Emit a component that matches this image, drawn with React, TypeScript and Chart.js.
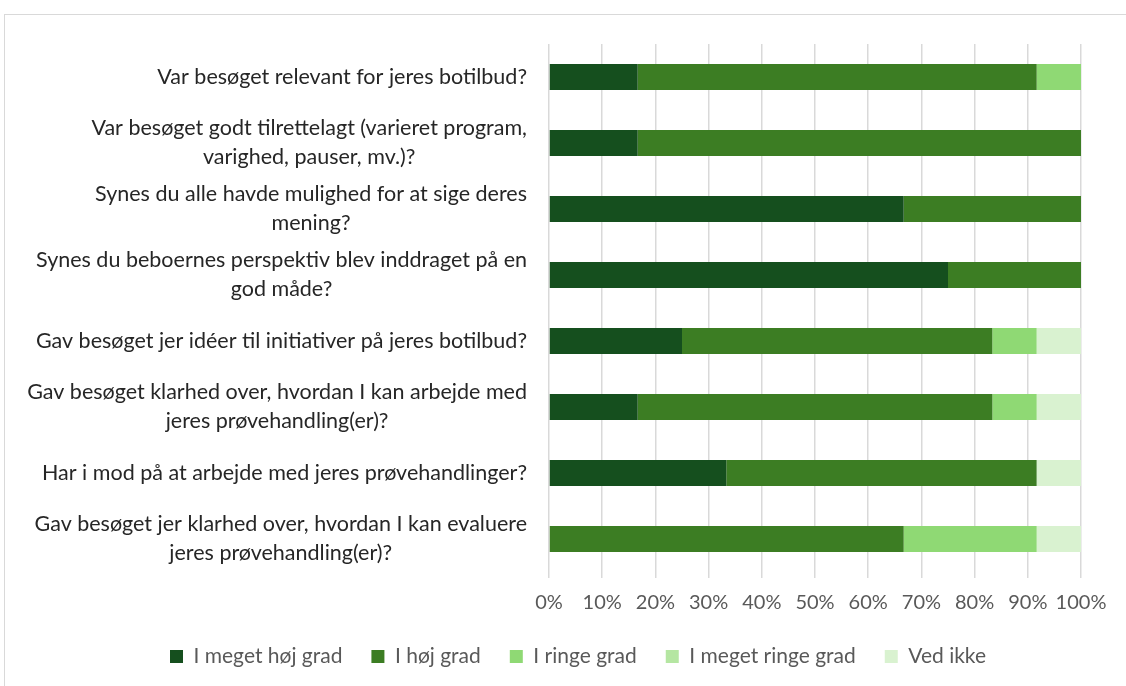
import React, { useEffect, useRef } from "react";
import { Chart, registerables } from "chart.js";

Chart.register(...registerables);

const categories: string[][] = [
  ["Var besøget relevant for jeres botilbud?"],
  ["Var besøget godt tilrettelagt (varieret program,", "varighed, pauser, mv.)?"],
  ["Synes du alle havde mulighed for at sige deres", "mening?"],
  ["Synes du beboernes perspektiv blev inddraget på en", "god måde?"],
  ["Gav besøget jer idéer til initiativer på jeres botilbud?"],
  ["Gav besøget klarhed over, hvordan I kan arbejde med", "jeres prøvehandling(er)?"],
  ["Har i mod på at arbejde med jeres prøvehandlinger?"],
  ["Gav besøget jer klarhed over, hvordan I kan evaluere", "jeres prøvehandling(er)?"],
];

const seriesNames = ["I meget høj grad", "I høj grad", "I ringe grad", "I meget ringe grad", "Ved ikke"];
const seriesColors = ["#154f1e", "#3c7d23", "#8fd974", "#b5e6a2", "#d9f2d0"];

const megetHoj = [16.67, 16.67, 66.67, 75, 25, 16.67, 33.33, 0];
const hoj = [75, 83.33, 33.33, 25, 58.33, 66.67, 58.33, 66.67];
const ringe = [8.33, 0, 0, 0, 8.33, 8.33, 0, 25];
const megetRinge = [0, 0, 0, 0, 0, 0, 0, 0];
const vedIkke = [0, 0, 0, 0, 8.33, 8.33, 8.33, 8.33];

const xTicks = [0, 10, 20, 30, 40, 50, 60, 70, 80, 90, 100];

const FONT = "Lato, 'Open Sans', sans-serif";

export default function App() {
  const ref = useRef<HTMLCanvasElement | null>(null);
  useEffect(() => {
    if (!ref.current) return;
    const seriesValues = [megetHoj, hoj, ringe, megetRinge, vedIkke];
    const yLabelPlugin = {
      id: "yLabels",
      afterDraw(chart: any) {
        const ctx = chart.ctx;
        const yScale = chart.scales.y;
        const right = chart.chartArea.left - 22;
        const lh = 29;
        ctx.save();
        ctx.font = `21.5px ${FONT}`;
        ctx.fillStyle = "#262626";
        ctx.textAlign = "center";
        ctx.textBaseline = "middle";
        categories.forEach((lines, i) => {
          const y = yScale.getPixelForValue(i);
          const maxW = Math.max(...lines.map((l) => ctx.measureText(l).width));
          const cx = right - maxW / 2;
          const y0 = y - ((lines.length - 1) * lh) / 2;
          lines.forEach((l, j) => ctx.fillText(l, cx, y0 + j * lh));
        });
        ctx.restore();
      },
    };
    const chart = new Chart(ref.current, {
      type: "bar",
      data: {
        labels: categories.map((c) => c.join(" ")),
        datasets: seriesNames.map((name, i) => ({
          label: name,
          data: seriesValues[i],
          backgroundColor: seriesColors[i],
          borderWidth: 0,
          barPercentage: 0.394,
          categoryPercentage: 1,
        })),
      },
      options: {
        indexAxis: "y",
        responsive: false,
        animation: false,
        layout: { padding: { left: 30, right: 0, top: 44, bottom: 9 } },
        scales: {
          x: {
            stacked: true,
            min: 0,
            max: 100,
            border: { display: false },
            grid: { color: "#d9d9d9", lineWidth: 1.5, tickLength: 6, drawTicks: true },
            afterBuildTicks: (axis: any) => {
              axis.ticks = xTicks.map((v) => ({ value: v }));
            },
            afterFit: (s: any) => {
              s.height = 45;
            },
            ticks: {
              callback: (v: any) => v + "%",
              color: "#595959",
              font: { family: FONT, size: 20 },
              padding: 13,
              maxRotation: 0,
              autoSkip: false,
            },
          },
          y: {
            stacked: true,
            display: true,
            grid: { display: false },
            border: { display: false },
            ticks: { display: false },
            afterFit: (s: any) => {
              s.width = 519;
            },
          },
          yRight: {
            type: "linear",
            axis: "y",
            position: "right",
            display: true,
            grid: { display: false },
            border: { display: false },
            ticks: { display: false },
            afterFit: (s: any) => {
              s.width = 45;
            },
          },
        },
        plugins: {
          legend: {
            position: "bottom",
            labels: {
              color: "#595959",
              font: { family: FONT, size: 21 },
              boxWidth: 13,
              boxHeight: 13,
              padding: 29,
            },
          },
          tooltip: { enabled: false },
        },
      },
      plugins: [yLabelPlugin],
    } as any);
    return () => chart.destroy();
  }, []);
  return (
    <div style={{ position: "absolute", left: 0, top: 0, width: 1126, height: 686, overflow: "hidden", background: "#fff" }}>
      <div style={{ position: "absolute", left: 4, top: 14, width: 1200, height: 700, border: "1px solid #d9d9d9" }} />
      <canvas ref={ref} width={1126} height={686} style={{ position: "absolute", left: 0, top: 0 }} />
    </div>
  );
}
